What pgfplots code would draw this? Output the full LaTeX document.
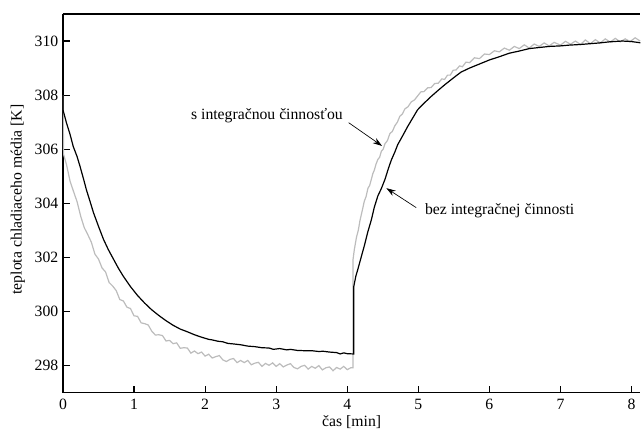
\documentclass[border=0pt]{standalone}
\usepackage{fontspec}
\setmainfont{Liberation Serif}
\usepackage{pgfplots}
\pgfplotsset{compat=1.18}
\usetikzlibrary{arrows.meta}

\definecolor{svetla}{RGB}{188,188,188}

\begin{document}
\begin{tikzpicture}[font=\fontsize{11.8}{14}\selectfont]
\begin{axis}[
    name=ax,
    scale only axis,
    width=433.5pt, height=284.25pt,
    xmin=0, xmax=8.124, ymin=297, ymax=311,
    axis x line=box, axis y line=left,
    axis line style={-, line width=0.9pt},
    xtick pos=bottom, ytick pos=left,
    tick align=inside, major tick length=5pt,
    tick style={line width=0.9pt, black},
    xtick={0,1,...,8}, ytick={298,300,...,310},
    /pgf/number format/assume math mode=true,
    xticklabel style={yshift=-1.5pt},
    xlabel={čas [min]},
    ylabel={teplota chladiaceho média [K]},
    xlabel style={at={(axis description cs:0.5,-0.079)}, anchor=center},
    ylabel style={at={(axis description cs:-0.078,0.51)}, anchor=center, rotate=0},
]
% s integracnou cinnostou
\addplot[svetla, line width=0.9pt] coordinates {
(0,308.0) (0.01,305.8)
(0.05,305.43) (0.10,304.82) (0.15,304.43) (0.20,304.05) (0.25,303.52)
(0.30,303.10) (0.35,302.84) (0.40,302.56) (0.45,302.12) (0.50,301.94)
(0.55,301.61) (0.60,301.46) (0.65,301.07) (0.70,300.94) (0.75,300.77)
(0.80,300.44) (0.85,300.39) (0.90,300.16) (0.95,300.11) (1.00,299.84)
(1.05,299.82) (1.10,299.58) (1.15,299.55) (1.20,299.50) (1.25,299.27)
(1.30,299.13) (1.35,299.14) (1.40,299.11) (1.45,298.91) (1.50,298.93)
(1.55,298.81) (1.60,298.84) (1.65,298.64) (1.70,298.66) (1.75,298.65)
(1.80,298.46) (1.85,298.54) (1.90,298.44) (1.95,298.50) (2.00,298.35)
(2.05,298.42) (2.10,298.28) (2.15,298.33) (2.20,298.37) (2.25,298.21)
(2.30,298.15) (2.35,298.23) (2.40,298.26) (2.45,298.11) (2.50,298.19)
(2.55,298.11) (2.60,298.19) (2.65,298.03) (2.70,298.09) (2.75,298.12)
(2.80,297.97) (2.85,298.08) (2.90,298.01) (2.95,298.10) (3.00,297.97)
(3.05,298.07) (3.10,297.95) (3.15,298.02) (3.20,298.07) (3.25,297.93)
(3.30,297.88) (3.35,297.97) (3.40,298.01) (3.45,297.87) (3.50,297.97)
(3.55,297.90) (3.60,298.00) (3.65,297.84) (3.70,297.92) (3.75,297.95)
(3.80,297.81) (3.85,297.93) (3.90,297.87) (3.95,297.97) (4.00,297.85)
(4.05,297.92) (4.08,297.92)
(4.08,301.90) (4.10,302.30) (4.13,302.75) (4.155,303.00) (4.18,303.38)
(4.21,303.72) (4.24,304.08) (4.265,304.25) (4.29,304.55) (4.315,304.66)
(4.34,304.90) (4.36,305.10) (4.38,305.22) (4.405,305.45) (4.43,305.62)
(4.455,305.70) (4.48,305.93) (4.505,306.00) (4.53,306.20) (4.565,306.32)
(4.60,306.58) (4.635,306.66) (4.67,306.87) (4.705,307.00) (4.74,307.22)
(4.775,307.30) (4.81,307.49) (4.855,307.57) (4.90,307.75) (4.945,307.82)
(4.99,307.97) (5.035,308.12) (5.08,308.13) (5.13,308.27) (5.18,308.28)
(5.23,308.43) (5.28,308.44) (5.33,308.60) (5.37,308.58) (5.41,308.74)
(5.45,308.74) (5.49,308.92) (5.53,308.93) (5.58,309.08) (5.62,309.05)
(5.67,309.22) (5.72,309.20) (5.79,309.38) (5.86,309.35) (5.93,309.52)
(6.00,309.50) (6.07,309.64) (6.14,309.60) (6.21,309.74) (6.28,309.66)
(6.35,309.80) (6.42,309.72) (6.49,309.86) (6.56,309.74) (6.63,309.89)
(6.70,309.80) (6.77,309.93) (6.84,309.82) (6.91,309.95) (7.00,309.85)
(7.07,309.99) (7.14,309.88) (7.21,310.00) (7.28,309.87) (7.35,310.04)
(7.42,309.90) (7.49,310.05) (7.56,309.93) (7.63,310.08) (7.70,309.96)
(7.77,310.10) (7.84,309.97) (7.91,310.08) (7.98,309.98) (8.05,310.12)
(8.12,310.00)
};
% bez integracnej cinnosti
\addplot[black, line width=0.9pt] coordinates {
(0,311) (0,307.46) (0.05,306.97) (0.10,306.55) (0.145,306.10) (0.20,305.72)
(0.24,305.37) (0.30,304.80) (0.33,304.50) (0.38,304.08) (0.43,303.65)
(0.50,303.15) (0.57,302.67) (0.64,302.28) (0.71,301.94) (0.78,301.60)
(0.85,301.30) (0.95,300.92) (1.05,300.59) (1.15,300.31) (1.25,300.06)
(1.35,299.85) (1.45,299.66) (1.55,299.49) (1.65,299.35) (1.75,299.25)
(1.85,299.14) (1.95,299.05) (2.05,298.97) (2.10,298.95) (2.18,298.90)
(2.25,298.88) (2.32,298.82) (2.40,298.80) (2.50,298.77) (2.60,298.72)
(2.70,298.70) (2.80,298.66) (2.90,298.65) (2.96,298.60) (3.05,298.63)
(3.15,298.58) (3.20,298.60) (3.30,298.56) (3.40,298.55) (3.50,298.55)
(3.60,298.52) (3.66,298.53) (3.75,298.50) (3.85,298.48) (3.90,298.43)
(3.95,298.47) (4.00,298.44) (4.09,298.43)
(4.09,300.90) (4.12,301.30) (4.15,301.57) (4.20,302.05) (4.24,302.43)
(4.29,302.95) (4.34,303.40) (4.38,303.85) (4.43,304.27) (4.48,304.55)
(4.53,304.88) (4.58,305.30) (4.62,305.60) (4.67,305.90) (4.71,306.17)
(4.78,306.50) (4.85,306.84) (4.92,307.15) (4.99,307.46) (5.08,307.70)
(5.18,307.95) (5.28,308.18) (5.37,308.38) (5.50,308.65) (5.60,308.85)
(5.72,309.00) (5.86,309.15) (6.00,309.30) (6.14,309.42) (6.28,309.55)
(6.42,309.63) (6.56,309.72) (6.70,309.76) (6.84,309.80) (7.00,309.82)
(7.13,309.85) (7.27,309.87) (7.41,309.90) (7.55,309.93) (7.69,309.97)
(7.87,310.00) (8.00,309.98) (8.11,309.94) (8.13,309.93)
};
\node[anchor=east, inner sep=0pt] at (axis cs:3.94,307.24) {s integračnou činnosťou};
\draw[-{Stealth[length=7pt,width=4.5pt]}, line width=0.5pt] (axis cs:4.02,306.98) -- (axis cs:4.49,306.12);
\node[anchor=west, inner sep=0pt] at (axis cs:5.09,303.72) {bez integračnej činnosti};
\draw[-{Stealth[length=7pt,width=4.5pt]}, line width=0.5pt] (axis cs:4.97,303.84) -- (axis cs:4.55,304.56);
\end{axis}
\path ([xshift=-47.25pt,yshift=-30.75pt]ax.south west) rectangle ([yshift=10.5pt]ax.north east);
\end{tikzpicture}
\end{document}
